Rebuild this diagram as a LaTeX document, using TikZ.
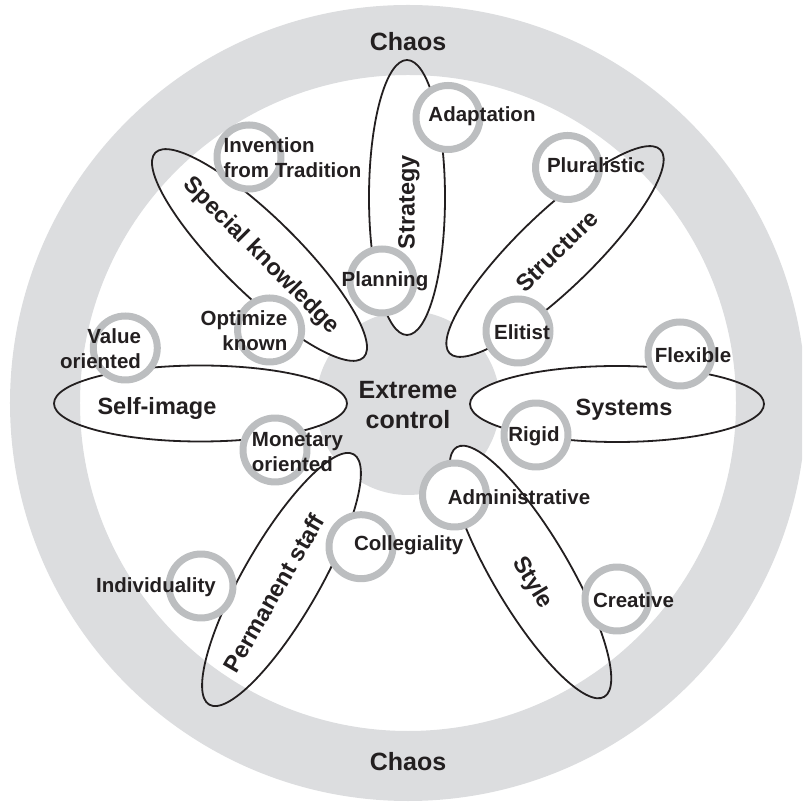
\documentclass[tikz,border=0pt]{standalone}
\usepackage{fontspec}
\setmainfont{Liberation Sans}
\definecolor{bandgray}{HTML}{DCDDDF}
\definecolor{ringgray}{HTML}{BCBEC0}
\definecolor{ink}{HTML}{231F20}
\tikzset{
	petal/.style={line width=0.9pt, draw=ink},
	ring/.style={circle, draw=ringgray, line width=3.5pt, fill=white, minimum size=32pt, inner sep=0pt},
	item/.style={font=\fontsize{10.25}{12.5}\selectfont\bfseries, text=ink, inner sep=0pt},
	petaltext/.style={font=\fontsize{11.75}{14}\selectfont\bfseries, text=ink, inner sep=0pt},
	bigtext/.style={font=\fontsize{12.5}{15}\selectfont\bfseries, text=ink, inner sep=0pt, align=center},
}
% petals: centre x / centre y / angle / half length
\def\petallist{-1/205.5/90/137.5, 147/151.5/44/146.5, 209/-1/0/147, 122.5/-169/-59.4/145,
	-126.5/-176.5/60/144.5, -207.5/-0.5/0/146.5, -148.5/148/-44.5/146}
\begin{document}
\begin{tikzpicture}[x=0.5pt, y=0.5pt, line join=round, line cap=round]
	\useasboundingbox (-408,-404) rectangle (394,403);
	% core disc and petal fills
	\fill[bandgray] (0,0) circle (92);
	\foreach \cx/\cy/\ang/\len in \petallist
		\fill[white, rotate around={\ang:(\cx,\cy)}] (\cx,\cy) ellipse [x radius=\len, y radius=38];
	% outer band
	\begin{scope}
		\clip (-408,-404) rectangle (394,403);
		\fill[bandgray, even odd rule] (0,0) circle (398) (0,0) circle (328);
	\end{scope}
	% petal outlines
	\foreach \cx/\cy/\ang/\len in \petallist
		\draw[petal, rotate around={\ang:(\cx,\cy)}] (\cx,\cy) ellipse [x radius=\len, y radius=38];
	% rings
	\node[ring] (adapt) at (40,285.5) {};
	\node[ring] (plan) at (-26,122) {};
	\node[ring] (invent) at (-159,246) {};
	\node[ring] (optim) at (-138.4,73) {};
	\node[ring] (value) at (-282.7,55) {};
	\node[ring] (monet) at (-133,-47) {};
	\node[ring] (plural) at (159.5,235.5) {};
	\node[ring] (elite) at (110,72) {};
	\node[ring] (flex) at (272,49) {};
	\node[ring] (rigid) at (128,-32) {};
	\node[ring] (admin) at (46.5,-92) {};
	\node[ring] (creat) at (209,-196) {};
	\node[ring] (colleg) at (-47,-143.7) {};
	\node[ring] (indiv) at (-207,-183) {};
	% texts
	\node[bigtext] (chaostop) at (0,361) {Chaos};
	\node[bigtext] (chaosbot) at (0,-359) {Chaos};
	\node[bigtext] (core) at (0,-2) {Extreme\\control};
	\node[petaltext, rotate=90] (strategy) at (1,201) {Strategy};
	\node[petaltext, rotate=44] (structure) at (149,152) {Structure};
	\node[petaltext] (systems) at (216,-7) {Systems};
	\node[petaltext, rotate=-59] (style) at (124,-180) {Style};
	\node[petaltext, rotate=60] (staff) at (-134,-190) {Permanent staff};
	\node[petaltext] (selfimage) at (-251,-5) {Self-image};
	\node[petaltext, rotate=-45] (special) at (-147,147) {Special knowledge};
	\node[item] at (74,287) {Adaptation};
	\node[item] at (-23,122) {Planning};
	\node[item, align=left] at (-115.5,245.5) {Invention\\from Tradition};
	\node[item, align=right] at (-164,72.5) {Optimize\\known};
	\node[item, align=right] at (-307.5,54) {Value\\oriented};
	\node[item, align=left] at (-110.5,-49) {Monetary\\oriented};
	\node[item] at (188,238) {Pluralistic};
	\node[item] at (114,71) {Elitist};
	\node[item] at (285,48) {Flexible};
	\node[item] at (126,-33) {Rigid};
	\node[item] at (111,-94) {Administrative};
	\node[item] at (225.5,-197) {Creative};
	\node[item] at (0.7,-142) {Collegiality};
	\node[item] at (-252,-184) {Individuality};
\end{tikzpicture}
\end{document}
